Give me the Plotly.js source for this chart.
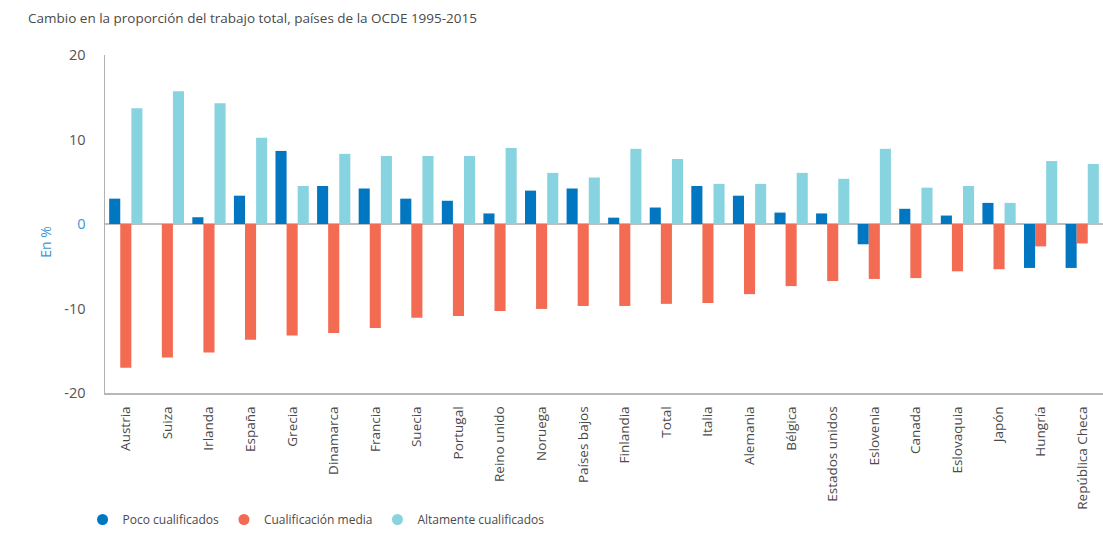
<!DOCTYPE html>
<html>
<head>
<meta charset="utf-8">
<script src="https://cdn.plot.ly/plotly-3.0.1.min.js"></script>
<style>html,body{margin:0;padding:0;background:#fff;}#chart{width:1103px;height:534px;}</style>
</head>
<body>
<div id="chart"></div>
<script>
var categories = ['Austria','Suiza','Irlanda','España','Grecia','Dinamarca','Francia','Suecia','Portugal','Reino unido','Noruega','Países bajos','Finlandia','Total','Italia','Alemania','Bélgica','Estados unidos','Eslovenia','Canada','Eslovaquia','Japón','Hungría','República Checa'];
var pocoCualificados = [3.0, 0, 0.8, 3.35, 8.65, 4.5, 4.2, 3.0, 2.75, 1.25, 3.95, 4.2, 0.75, 1.95, 4.5, 3.35, 1.35, 1.25, -2.4, 1.8, 1.0, 2.5, -5.2, -5.2];
var cualificacionMedia = [-17.0, -15.8, -15.2, -13.7, -13.2, -12.9, -12.3, -11.1, -10.9, -10.3, -10.05, -9.7, -9.7, -9.45, -9.35, -8.3, -7.35, -6.75, -6.5, -6.4, -5.6, -5.35, -2.65, -2.3];
var altamenteCualificados = [13.7, 15.7, 14.3, 10.2, 4.5, 8.3, 8.05, 8.05, 8.05, 9.0, 6.05, 5.5, 8.9, 7.7, 4.75, 4.75, 6.05, 5.35, 8.9, 4.3, 4.5, 2.5, 7.45, 7.1];
var seriesNames = ['Poco cualificados', 'Cualificación media', 'Altamente cualificados'];
var seriesColors = ['#0077c0', '#f26b52', '#88d3e0'];
var yTickVals = [-20, -10, 0, 10, 20];
var yTickText = ['-20', '-10', '<span style="color:#3a96d6">0</span>', '10', '20'];

var seriesValues = [pocoCualificados, cualificacionMedia, altamenteCualificados];
var traces = [];
seriesValues.forEach(function (vals, i) {
  traces.push({
    type: 'bar', x: categories, y: vals, name: seriesNames[i],
    marker: {color: seriesColors[i], line: {width: 0}},
    showlegend: false, hoverinfo: 'x+y'
  });
});
seriesValues.forEach(function (vals, i) {
  traces.push({
    type: 'scatter', mode: 'markers', x: [null], y: [null], name: seriesNames[i],
    marker: {color: seriesColors[i], symbol: 'circle', size: 11},
    showlegend: true, hoverinfo: 'skip'
  });
});

var layout = {
  width: 1103, height: 534,
  margin: {l: 105, r: 0, t: 55, b: 140, pad: 0},
  paper_bgcolor: '#ffffff', plot_bgcolor: '#ffffff',
  font: {family: 'Open Sans, Noto Sans, sans-serif', color: '#4a4a4a', size: 13},
  barmode: 'group', bargap: 0.2, bargroupgap: 0,
  title: {
    text: 'Cambio en la proporción del trabajo total, países de la OCDE 1995-2015',
    font: {size: 13.5, color: '#4a4a4a'},
    x: 28 / 1103, xanchor: 'left', xref: 'container',
    y: 1 - 18 / 534, yanchor: 'middle', yref: 'container'
  },
  xaxis: {
    type: 'category', tickangle: -90, showgrid: false, zeroline: false,
    showline: true, linecolor: '#b8b8b8', linewidth: 2,
    ticks: '', tickfont: {size: 13.5, color: '#4a4a4a'}, ticklabelstandoff: 6,
    automargin: false
  },
  yaxis: {
    range: [-20, 20], tickvals: yTickVals, ticktext: yTickText,
    showgrid: false, zeroline: true, zerolinecolor: '#bdbdbd', zerolinewidth: 2,
    showline: true, linecolor: '#b0b0b0', linewidth: 1.5,
    ticks: '', tickfont: {size: 14.5, color: '#555555'}, ticklabelstandoff: 15,
    automargin: false
  },
  legend: {
    orientation: 'h', x: -0.0225, xanchor: 'left', y: -0.375, yanchor: 'middle',
    font: {size: 12, color: '#4a4a4a'}, itemwidth: 30, bgcolor: 'rgba(0,0,0,0)'
  },
  annotations: [{
    text: 'En %', textangle: -90, xref: 'paper', yref: 'y',
    x: (46 - 105) / 998, y: -2.1, xanchor: 'center', yanchor: 'middle',
    showarrow: false, font: {size: 14, color: '#3a96d6'}
  }]
};

Plotly.newPlot('chart', traces, layout, {displayModeBar: false, staticPlot: true});
</script>
</body>
</html>
